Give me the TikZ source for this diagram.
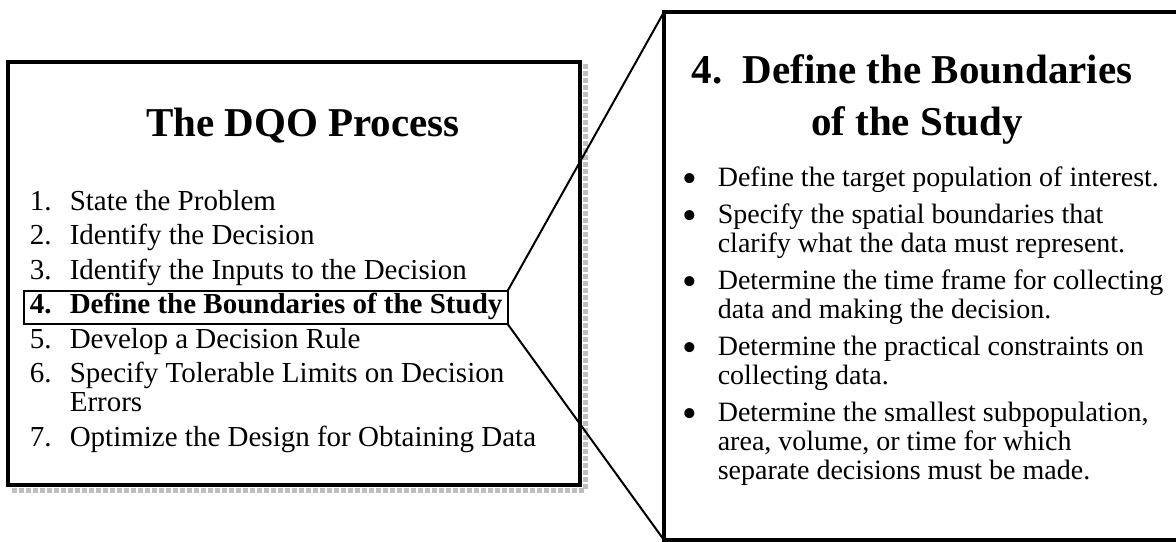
\documentclass[tikz,border=0pt]{standalone}
\usepackage{fontspec}
\setmainfont{Liberation Serif}
\usetikzlibrary{matrix, fit}
\usetikzlibrary{positioning}

\newcommand{\bigdot}{\raisebox{-3pt}{\fontsize{21}{15}\selectfont\textbullet}}

\begin{document}
\begin{tikzpicture}[x=0.5pt,y=-0.5pt,
panel/.style={draw,line width=2.4pt,outer sep=0pt},
hilite/.style={draw,line width=1pt,inner xsep=2.5pt,inner ysep=1.5pt,outer sep=0pt},
zoomline/.style={line width=1pt},
headfont/.style={font=\fontsize{20.5}{24}\selectfont\bfseries},
listfont/.style={font=\fontsize{14.5}{15}\selectfont},
bulletfont/.style={font=\fontsize{14}{15}\selectfont}]
\useasboundingbox (0,0) rectangle (1176,541);
\draw[panel] (8,62) rectangle (580,485);
\draw[gray!50,densely dotted,line width=2.5pt] (585,64) -- (585,490) -- (12,490);
\node[headfont,anchor=base] (title) at (303,136) {The DQO Process};
\matrix[matrix of nodes,
inner sep=0pt,
anchor=north west,
row sep=3.75pt,
nodes={inner sep=0pt,text height=10pt,text depth=3.5pt,anchor=base west,listfont},
column 1/.style={nodes={text width=20pt}}
] (steps) at (29,190) {
1. & State the Problem\\
2. & Identify the Decision\\
3. & Identify the Inputs to the Decision\\
\textbf{4.} & \textbf{Define the Boundaries of the Study}\\
5. & Develop a Decision Rule\\
6. & Specify Tolerable Limits on Decision\\[-2.75pt]
 & Errors\\
7. & Optimize the Design for Obtaining Data\\
};
\node[hilite,fit=(steps-4-1)(steps-4-2)] (hl) {};
\node[panel,anchor=north west,minimum width=300pt,minimum height=264pt] (zoom) at (664,12) {};
\node[headfont,anchor=base] (head1) at (912,83) {4.\enspace Define the Boundaries};
\node[headfont,anchor=base] (head2) at (917,135) {of the Study};
\matrix[matrix of nodes,
inner sep=0pt,
anchor=north west,
row sep=1pt,
nodes={inner sep=0pt,text height=10pt,text depth=3.5pt,anchor=base west,bulletfont},
column 1/.style={nodes={text width=17.5pt}}
] (tasks) at (682,166) {
\bigdot & Define the target population of interest.\\[4pt]
\bigdot & Specify the spatial boundaries that\\
 & clarify what the data must represent.\\[4pt]
\bigdot & Determine the time frame for collecting\\
 & data and making the decision.\\[4pt]
\bigdot & Determine the practical constraints on\\
 & collecting data.\\[4pt]
\bigdot & Determine the smallest subpopulation,\\
 & area, volume, or time for which\\
 & separate decisions must be made.\\
};
\draw[zoomline] (hl.north east) -- (zoom.north west);
\draw[zoomline] (hl.south east) -- (zoom.south west);
\end{tikzpicture}
\end{document}
